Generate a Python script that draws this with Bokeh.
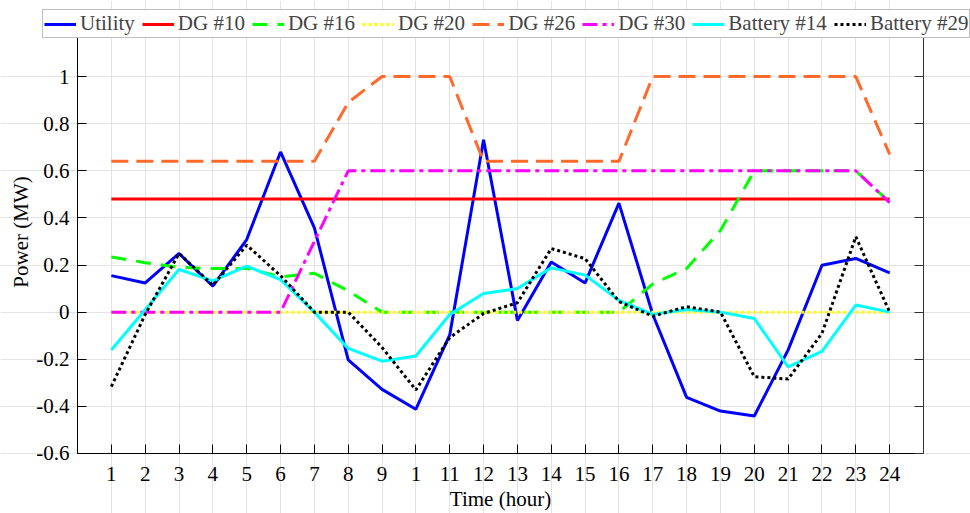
from bokeh.plotting import figure
from bokeh.models import (Range1d, FixedTicker, CustomJSTickFormatter, LinearAxis,
                          Legend, LegendItem, Grid)
from bokeh.embed import file_html
from bokeh.resources import INLINE

# ---------------- data ----------------
hours = [1, 2, 3, 4, 5, 6, 7, 8, 9, 10, 11, 12, 13, 14, 15, 16, 17, 18, 19, 20, 21, 22, 23, 24]
hour_labels = ["1", "2", "3", "4", "5", "6", "7", "8", "9", "1", "11", "12",
               "13", "14", "15", "16", "17", "18", "19", "20", "21", "22", "23", "24"]
y_ticks = [-0.6, -0.4, -0.2, 0.0, 0.2, 0.4, 0.6, 0.8, 1.0]
y_tick_labels = ["-0.6", "-0.4", "-0.2", "0", "0.2", "0.4", "0.6", "0.8", "1"]

utility = [0.155, 0.124, 0.249, 0.110, 0.308, 0.680, 0.358, -0.203, -0.328, -0.412, -0.097, 0.732,
           -0.035, 0.213, 0.124, 0.463, -0.010, -0.362, -0.420, -0.441, -0.160, 0.199, 0.228, 0.167]
dg10 = [0.48, 0.48, 0.48, 0.48, 0.48, 0.48, 0.48, 0.48, 0.48, 0.48, 0.48, 0.48,
        0.48, 0.48, 0.48, 0.48, 0.48, 0.48, 0.48, 0.48, 0.48, 0.48, 0.48, 0.48]
dg16 = [0.234, 0.210, 0.190, 0.185, 0.186, 0.150, 0.165, 0.090, 0.0, 0.0, 0.0, 0.0,
        0.0, 0.0, 0.0, 0.0, 0.120, 0.185, 0.347, 0.600, 0.600, 0.600, 0.600, 0.467]
dg20 = [0.0, 0.0, 0.0, 0.0, 0.0, 0.0, 0.0, 0.0, 0.0, 0.0, 0.0, 0.0,
        0.0, 0.0, 0.0, 0.0, 0.0, 0.0, 0.0, 0.0, 0.0, 0.0, 0.0, 0.0]
dg26 = [0.64, 0.64, 0.64, 0.64, 0.64, 0.64, 0.64, 0.89, 1.0, 1.0, 1.0, 0.64,
        0.64, 0.64, 0.64, 0.64, 1.0, 1.0, 1.0, 1.0, 1.0, 1.0, 1.0, 0.67]
dg30 = [0.0, 0.0, 0.0, 0.0, 0.0, 0.0, 0.30, 0.60, 0.60, 0.60, 0.60, 0.60,
        0.60, 0.60, 0.60, 0.60, 0.60, 0.60, 0.60, 0.60, 0.60, 0.60, 0.60, 0.465]
bat14 = [-0.161, 0.010, 0.181, 0.133, 0.195, 0.138, 0.0, -0.154, -0.208, -0.186, -0.010, 0.079,
         0.100, 0.188, 0.157, 0.050, -0.010, 0.011, 0.0, -0.027, -0.232, -0.167, 0.030, 0.0]
bat29 = [-0.316, -0.010, 0.249, 0.114, 0.284, 0.155, 0.0, 0.0, -0.150, -0.330, -0.108, -0.006,
         0.040, 0.270, 0.227, 0.045, -0.017, 0.023, 0.0, -0.274, -0.284, -0.090, 0.320, 0.0]

series_names = ["Utility", "DG #10", "DG #16", "DG #20", "DG #26", "DG #30", "Battery #14", "Battery #29"]
series_values = [utility, dg10, dg16, dg20, dg26, dg30, bat14, bat29]

# ---------------- styles / geometry ----------------
colors = ["#0000FF", "#FF0000", "#00FF00", "#FFFF00", "#FF6A2A", "#FF00FF", "#00FFFF", "#000000"]
dashes = ["solid", "solid", "15 10", "3 3", "17 8", "15 5 4 5", "solid", "3 3"]

FONT = "Liberation Serif"
FS = "21px"

X_MIN, X_MAX = 0, 25            # axes box (hours)
Y_MIN, Y_TOP = -0.6, 1.28       # axes box (MW); its top is hidden under the legend

# The frame covers the whole canvas so that the wide legend is not clipped;
# the axes are pinned to the box edges with fixed_location / bounds.
p = figure(width=970, height=513,
           x_range=Range1d(-2.2754, 26.3889), y_range=Range1d(-0.8547, 1.3228),
           output_backend="svg", toolbar_location=None,
           min_border_left=0, min_border_right=0, min_border_top=0, min_border_bottom=0,
           x_axis_location=None, y_axis_location=None)
p.outline_line_color = None
p.background_fill_color = "white"
p.border_fill_color = "white"
p.grid.visible = False

items = []
for name, vals, c, d in zip(series_names, series_values, colors, dashes):
    r = p.line(hours, vals, line_color=c, line_width=3, line_dash=d)
    items.append(LegendItem(label=name, renderers=[r]))

def style_axis(ax):
    ax.major_tick_in = 9
    ax.major_tick_out = 0
    ax.minor_tick_line_color = None
    ax.axis_line_color = "black"
    ax.major_tick_line_color = "black"
    ax.major_label_text_font = FONT
    ax.major_label_text_font_size = FS
    ax.major_label_text_color = "black"
    ax.axis_label_text_font = FONT
    ax.axis_label_text_font_size = FS
    ax.axis_label_text_font_style = "normal"
    ax.axis_label_text_color = "black"

def lookup_formatter(vals, labels):
    return CustomJSTickFormatter(args=dict(labels=labels, vals=vals), code="""
        for (let i = 0; i < vals.length; i++) { if (Math.abs(vals[i] - tick) < 1e-6) return labels[i]; }
        return '';
    """)

# bottom axis pinned at y = -0.6
xax = LinearAxis(fixed_location=Y_MIN, bounds=(X_MIN, X_MAX),
                 ticker=FixedTicker(ticks=hours),
                 formatter=lookup_formatter(hours, hour_labels),
                 axis_label="Time (hour)")
style_axis(xax)
xax.major_label_standoff = 14
xax.axis_label_standoff = 2
p.add_layout(xax, "below")

# left axis pinned at x = 0
yax = LinearAxis(fixed_location=X_MIN, bounds=(Y_MIN, Y_TOP),
                 ticker=FixedTicker(ticks=y_ticks),
                 formatter=lookup_formatter(y_ticks, y_tick_labels),
                 axis_label="Power (MW)")
style_axis(yax)
yax.major_label_standoff = 8
yax.axis_label_standoff = 0
p.add_layout(yax, "left")

# right box edge pinned at x = 25 (ticks only)
rax = LinearAxis(fixed_location=X_MAX, bounds=(Y_MIN, Y_TOP),
                 ticker=FixedTicker(ticks=y_ticks),
                 formatter=CustomJSTickFormatter(code="return '';"))
rax.major_tick_in = 9
rax.major_tick_out = 0
rax.minor_tick_line_color = None
rax.axis_line_color = "#333333"
rax.major_tick_line_color = "#333333"
p.add_layout(rax, "right")

# grid limited to the axes box
xgrid = Grid(dimension=0, ticker=FixedTicker(ticks=hours), bounds=(Y_MIN, Y_TOP))
ygrid = Grid(dimension=1, ticker=FixedTicker(ticks=y_ticks), bounds=(X_MIN, X_MAX))
for g in (xgrid, ygrid):
    g.grid_line_color = "#E3E3E3"
    g.grid_line_width = 1
    p.add_layout(g)

legend = Legend(items=items, orientation="horizontal", location=(42, 475),
                label_text_font=FONT, label_text_font_size=FS,
                glyph_width=32, glyph_height=20, label_standoff=4, spacing=7,
                padding=1, margin=0,
                border_line_color="#7F7F7F", border_line_width=1,
                background_fill_color="white", background_fill_alpha=1.0)
p.add_layout(legend)

open("out.html", "w").write(file_html(p, INLINE))
